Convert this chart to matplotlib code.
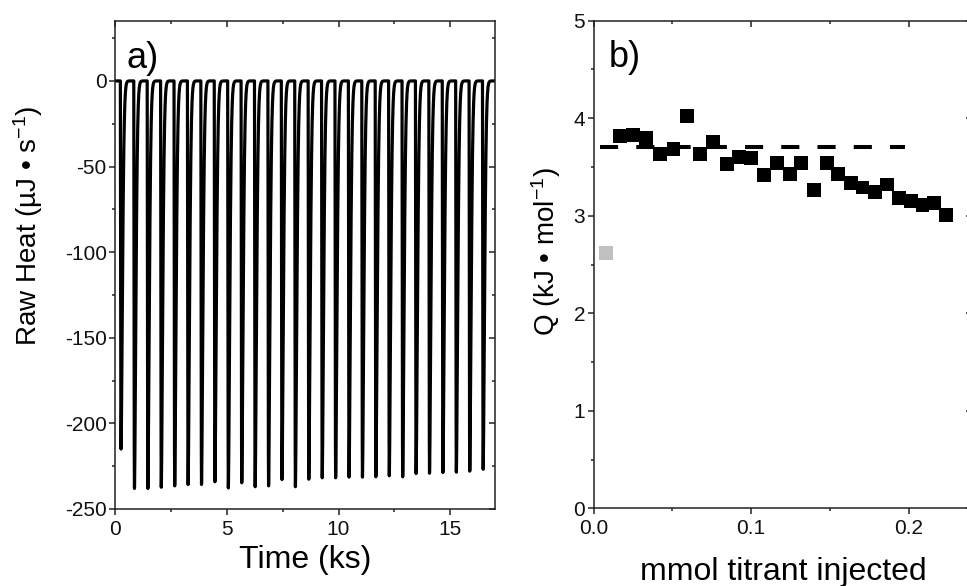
import numpy as np
import matplotlib
matplotlib.use('Agg')
import matplotlib.pyplot as plt
from matplotlib.ticker import MultipleLocator, FormatStrFormatter

plt.rcParams['font.family'] = ['Liberation Sans', 'DejaVu Sans']
plt.rcParams['mathtext.fontset'] = 'custom'
plt.rcParams['mathtext.rm'] = 'Liberation Sans'
plt.rcParams['mathtext.it'] = 'Liberation Sans:italic'
plt.rcParams['axes.unicode_minus'] = False

# a) thermogram: time of each injection peak (ks) and its minimum (uJ/s)
PEAK_TIME_KS = [0.27, 0.87, 1.47, 2.07, 2.67, 3.27, 3.87, 4.47, 5.07, 5.67,
                6.27, 6.87, 7.47, 8.07, 8.67, 9.27, 9.87, 10.47, 11.07, 11.67,
                12.27, 12.87, 13.47, 14.07, 14.67, 15.27, 15.87, 16.47]
PEAK_DEPTH = [-215.0, -238.0, -238.0, -237.3, -236.5, -235.7, -235.7, -234.1,
              -237.7, -234.7, -237.0, -236.5, -232.8, -237.0, -232.6, -231.8,
              -231.8, -231.4, -231.4, -231.2, -230.6, -231.2, -229.3, -229.1,
              -228.7, -228.5, -227.9, -226.8]

# b) integrated heats
TITRANT_MMOL = [0.0079, 0.0168, 0.0248, 0.0333, 0.0424, 0.0508, 0.0593, 0.0676,
                0.0756, 0.0845, 0.0925, 0.1001, 0.1080, 0.1164, 0.1247, 0.1320,
                0.1400, 0.1480, 0.1555, 0.1634, 0.1708, 0.1788, 0.1863, 0.1940,
                0.2015, 0.2089, 0.2163, 0.2237]
Q_KJ = [2.62, 3.82, 3.83, 3.80, 3.63, 3.68, 4.02, 3.63, 3.76, 3.53, 3.60, 3.59,
        3.42, 3.54, 3.43, 3.54, 3.26, 3.54, 3.43, 3.34, 3.29, 3.24, 3.32, 3.18,
        3.15, 3.11, 3.13, 3.01]
EXCLUDED = [0]          # first injection, drawn in grey
Q_MEAN = 3.70
Q_MEAN_X = [0.004, 0.198]

W, H = 967, 586
fig = plt.figure(figsize=(W / 100, H / 100), dpi=100)


def px_axes(x0, x1, y0, y1):
    # pixel box (top-down y) -> figure fractions
    return fig.add_axes([x0 / W, 1 - y1 / H, (x1 - x0) / W, (y1 - y0) / H])


def style(ax):
    for sp in ax.spines.values():
        sp.set_linewidth(1.1)
        sp.set_color('#222222')
    ax.tick_params(which='both', direction='out', width=1.1, color='#222222',
                   labelsize=15, labelcolor='#111111')
    ax.tick_params(which='major', length=4)
    ax.tick_params(which='minor', length=2.5)
    ax.tick_params(axis='y', which='both', pad=2)
    ax.tick_params(axis='x', which='both', pad=4)
    ax.tick_params(which='both', top=True, right=True)
    # mirrored ticks point inward
    for tk in ax.xaxis.get_major_ticks() + ax.xaxis.get_minor_ticks():
        tk.tick2line.set_marker(3)
    for tk in ax.yaxis.get_major_ticks() + ax.yaxis.get_minor_ticks():
        tk.tick2line.set_marker(0)


# ---- panel a ----
ax1 = px_axes(115, 495, 21, 509)
t = np.linspace(0, 17, 17001)
heat = np.zeros_like(t)
for tp, d in zip(PEAK_TIME_KS, PEAK_DEPTH):
    s = t - tp
    drop = (s > -0.03) & (s <= 0)
    heat[drop] += d * np.sin(0.5 * np.pi * (s[drop] + 0.03) / 0.03)
    rec = s > 0
    heat[rec] += d * np.exp(-(s[rec] / 0.09) ** 1.6)
ax1.plot(t, heat, color='black', lw=2.3, solid_joinstyle='round')
ax1.set_xlim(0, 17)
ax1.set_ylim(-250, 35)
ax1.xaxis.set_major_locator(MultipleLocator(5))
ax1.xaxis.set_minor_locator(MultipleLocator(2.5))
ax1.yaxis.set_major_locator(MultipleLocator(50))
ax1.yaxis.set_minor_locator(MultipleLocator(25))
style(ax1)
ax1.text(0.03, 0.96, 'a)', transform=ax1.transAxes, fontsize=26, va='top')
ax1.set_xlabel('Time (ks)', fontsize=23)
ax1.xaxis.set_label_coords(0.5, (509 - 568) / 488)
ax1.xaxis.label.set_va('baseline')
ax1.set_ylabel('Raw Heat (µJ • s$^{-1}$)', fontsize=20)
ax1.yaxis.set_label_coords((37 - 115) / 380, (509 - 226) / 488)
ax1.yaxis.label.set_va('baseline')
ax1.yaxis.label.set_rotation_mode('anchor')

# ---- panel b ----
ax2 = px_axes(593.5, 971.5, 20.7, 508.3)
ax2.plot(Q_MEAN_X, [Q_MEAN, Q_MEAN], color='black', lw=2.9, dashes=(4.5, 4.5),
         zorder=2)
cols = ['#c0c0c0' if i in EXCLUDED else 'black' for i in range(len(Q_KJ))]
ax2.scatter(TITRANT_MMOL, Q_KJ, marker='s', s=10.0 ** 2, c=cols, linewidths=0,
            zorder=3)
ax2.set_xlim(0, 0.24)
ax2.set_ylim(0, 5)
ax2.xaxis.set_major_locator(MultipleLocator(0.1))
ax2.xaxis.set_minor_locator(MultipleLocator(0.05))
ax2.xaxis.set_major_formatter(FormatStrFormatter('%.1f'))
ax2.yaxis.set_major_locator(MultipleLocator(1))
ax2.yaxis.set_minor_locator(MultipleLocator(0.5))
style(ax2)
ax2.text(0.04, 0.96, 'b)', transform=ax2.transAxes, fontsize=26, va='top')
ax2.set_xlabel('mmol titrant injected', fontsize=23)
ax2.xaxis.set_label_coords(0.501, (508.3 - 580) / 487.6)
ax2.xaxis.label.set_va('baseline')
ax2.set_ylabel('Q (kJ • mol$^{-1}$)', fontsize=20)
ax2.yaxis.set_label_coords((555 - 593.5) / 378, (508.3 - 252) / 487.6)
ax2.yaxis.label.set_va('baseline')
ax2.yaxis.label.set_rotation_mode('anchor')

fig.savefig('out.png', dpi=100)
